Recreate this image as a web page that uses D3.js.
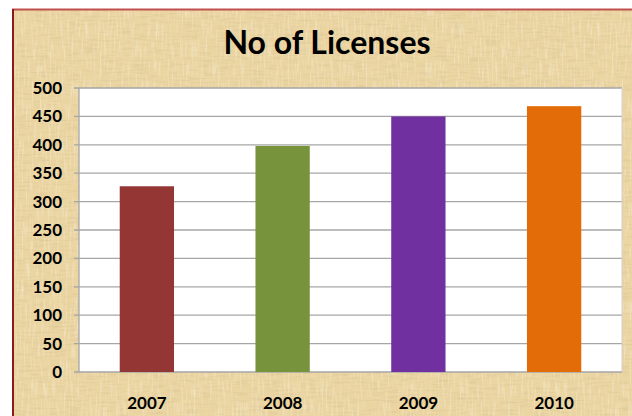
<!DOCTYPE html>
<meta charset="utf-8">
<style>
  body { margin: 0; background: #fff; }
  text { font-family: Lato, "Open Sans", sans-serif; font-weight: bold; fill: #000; }
</style>
<body>
<script src="https://d3js.org/d3.v7.min.js"></script>
<script>

    // chart data
    var years = ["2007", "2008", "2009", "2010"];
    var licenses = [327, 398, 450, 468];
    var barColors = ["#943634", "#77933C", "#7030A0", "#E36C09"];
    var yTicks = [0, 50, 100, 150, 200, 250, 300, 350, 400, 450, 500];

    var W = 632, H = 416;
    var margin = {top: 88, right: 10, bottom: 44, left: 79},
        width = 622 - margin.left,
        height = 372 - margin.top;

    var svg = d3.select("body").append("svg")
        .attr("width", W)
        .attr("height", H);

    // parchment texture (two noise layers: fibres + blotches)
    var defs = svg.append("defs");
    var f = defs.append("filter").attr("id", "paper")
        .attr("x", 0).attr("y", 0).attr("width", "100%").attr("height", "100%");
    f.append("feTurbulence")
        .attr("type", "fractalNoise")
        .attr("baseFrequency", "0.06 0.5")
        .attr("numOctaves", 2)
        .attr("seed", 7)
        .attr("result", "n1");
    f.append("feColorMatrix")
        .attr("in", "n1").attr("type", "matrix")
        .attr("values", "0 0 0 0 0.6  0 0 0 0 0.48  0 0 0 0 0.25  0 0 0 -0.9 0.5")
        .attr("result", "t1");
    f.append("feTurbulence")
        .attr("type", "fractalNoise")
        .attr("baseFrequency", "0.5 0.05")
        .attr("numOctaves", 2)
        .attr("seed", 3)
        .attr("result", "n2");
    f.append("feColorMatrix")
        .attr("in", "n2").attr("type", "matrix")
        .attr("values", "0 0 0 0 1  0 0 0 0 0.97  0 0 0 0 0.85  0 0 0 -0.9 0.45")
        .attr("result", "t2");
    f.append("feMerge").call(function (m) {
        m.append("feMergeNode").attr("in", "SourceGraphic");
        m.append("feMergeNode").attr("in", "t1");
        m.append("feMergeNode").attr("in", "t2");
    });

    svg.append("rect")
        .attr("x", 13).attr("y", 10)
        .attr("width", W - 13).attr("height", H - 10)
        .attr("fill", "#EBD5A2")
        .attr("filter", "url(#paper)");

    // frame lines
    svg.append("line").attr("x1", 12).attr("x2", W).attr("y1", 9.5).attr("y2", 9.5)
        .attr("stroke", "#C0504D").attr("stroke-width", 2);
    svg.append("line").attr("x1", 13).attr("x2", 13).attr("y1", 9).attr("y2", H)
        .attr("stroke", "#8B1A1A").attr("stroke-width", 2);

    // title
    svg.append("text")
        .attr("x", 327)
        .attr("y", 54)
        .attr("text-anchor", "middle")
        .style("font-size", "32px")
        .text("No of Licenses");

    var g = svg.append("g")
        .attr("transform", "translate(" + margin.left + "," + margin.top + ")");

    var x = d3.scaleBand().domain(years).range([0, width])
        .paddingInner(0.6).paddingOuter(0.3);
    var y = d3.scaleLinear().domain([0, 500]).range([height, 0]);

    // plot area
    g.append("rect")
        .attr("width", width).attr("height", height)
        .attr("fill", "#fff");

    // gridlines
    g.selectAll(".grid")
        .data(yTicks)
        .enter().append("line")
        .attr("x1", -5).attr("x2", width)
        .attr("y1", function (d) { return y(d); })
        .attr("y2", function (d) { return y(d); })
        .attr("stroke", "#A6A6A6")
        .attr("stroke-width", 1.3);

    g.append("line").attr("x1", 0).attr("x2", 0).attr("y1", 0).attr("y2", height)
        .attr("stroke", "#A6A6A6").attr("stroke-width", 1.3);
    g.append("line").attr("x1", width).attr("x2", width).attr("y1", 0).attr("y2", height)
        .attr("stroke", "#D0D0D0").attr("stroke-width", 1);

    // bars
    g.selectAll(".bar")
        .data(licenses)
        .enter().append("rect")
        .attr("x", function (d, i) { return x(years[i]); })
        .attr("width", x.bandwidth())
        .attr("y", function (d) { return y(d); })
        .attr("height", function (d) { return height - y(d); })
        .attr("fill", function (d, i) { return barColors[i]; });

    // y axis labels
    var yAxis = g.append("g")
        .call(d3.axisLeft(y).tickValues(yTicks).tickSize(0).tickPadding(17));
    yAxis.select(".domain").remove();
    yAxis.selectAll("text").style("font-size", "17px").attr("fill", "#000");

    // x axis labels
    var xAxis = g.append("g")
        .attr("transform", "translate(0," + height + ")")
        .call(d3.axisBottom(x).tickSize(0).tickPadding(25));
    xAxis.select(".domain").remove();
    xAxis.selectAll("text").style("font-size", "17px").attr("fill", "#000");

</script>
</body>
